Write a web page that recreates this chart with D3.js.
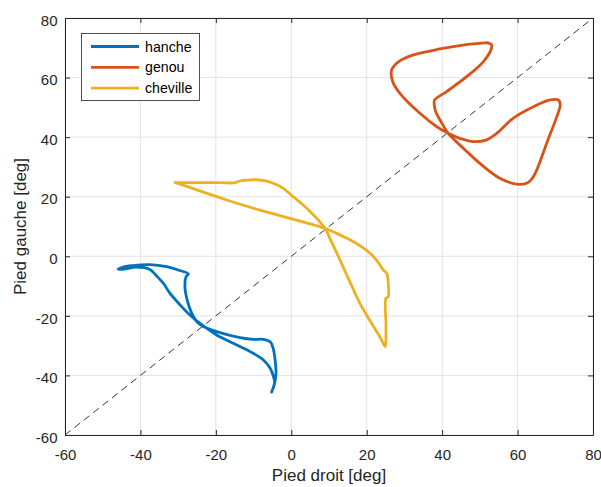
<!DOCTYPE html>
<html>
<head>
<meta charset="utf-8">
<script src="https://cdn.jsdelivr.net/npm/d3@7"></script>
<style>
  html, body { margin: 0; padding: 0; background: #fff; }
  svg { display: block; font-family: "Liberation Sans", Arial, Helvetica, sans-serif; }
</style>
</head>
<body>
<svg id="chart" width="601" height="487"></svg>
<script>
// Joint angle cycles: right foot (x) vs left foot (y), in degrees
const hancheX = [-5.2, -4.5, -4.05, -4.3, -4.8, -5.6, -7.4, -10.1, -13.6, -19.8, -23.3, -25.1, -26.4, -27.6, -28.2, -27.9, -27.3,
                 -30.0, -33.0, -37.5, -41.9, -44.6, -45.9, -44.0, -41.0, -37.5, -35.7, -33.9, -32.2, -29.5, -26.9, -23.3,
                 -19.8, -15.4, -10.9, -7.4, -5.6, -4.6, -4.4];
const hancheY = [-45.6, -43.0, -39.3, -34.8, -30.9, -28.7, -27.9, -27.9, -27.3, -25.3, -23.6, -21.9, -19.1, -14.7, -10.2, -6.8, -5.9,
                 -4.6, -3.5, -2.8, -3.1, -3.6, -4.4, -4.2, -3.6, -4.4, -6.6, -9.1, -12.4, -16.3, -19.7, -23.4,
                 -26.4, -29.2, -32.0, -34.8, -37.6, -40.9, -42.5];

const genouX = [51.8, 53.1, 53.0, 50.9, 46.5, 41.2, 38.0, 37.9, 38.3, 39.6, 41.6, 43.5, 45.6, 50.0, 55.3, 59.8, 62.4, 63.8, 65.1,
                67.7, 70.4, 71.3, 70.8, 68.6, 64.2, 58.8, 54.5, 51.8, 48.3, 44.7, 41.6, 38.6, 34.1, 28.8, 26.9, 26.6, 28.4,
                32.4, 39.4, 45.6, 51.8];
const genouY = [71.7, 71.0, 69.5, 65.3, 60.3, 55.3, 52.5, 51.0, 48.5, 45.4, 41.3, 38.8, 36.3, 31.2, 26.2, 24.2, 24.5, 26.0, 29.0,
                37.9, 46.9, 50.8, 52.5, 52.5, 50.2, 46.3, 41.3, 39.1, 38.5, 39.6, 41.3, 43.5, 48.0, 54.7, 58.6, 62.5, 65.3,
                67.6, 69.6, 70.9, 71.7];

const chevilleX = [-30.8, -27.0, -24.2, -19.0, -14.9, -14.0, -11.5, -9.2, -6.8, -4.8, -2.1, 0.5, 3.0, 5.0, 7.0, 8.9, 10.8, 12.9,
                   15.5, 18.2, 20.0, 21.8, 23.5, 24.9, 25.1, 25.1, 25.1, 25.7, 25.7, 25.3, 24.4, 22.8, 20.9, 18.8, 16.5, 14.2,
                   12.0, 8.9, -8.3, -17.1, -30.8];
const chevilleY = [24.8, 24.7, 24.7, 24.7, 24.7, 25.2, 25.6, 25.7, 25.3, 24.5, 22.8, 20.0, 17.4, 15.0, 12.4, 9.4, 4.5, -1.2,
                   -8.5, -15.8, -19.8, -23.6, -27.0, -30.3, -26.0, -22.5, -14.1, -13.6, -9.1, -5.7, -4.6, -1.6, 1.0, 3.1, 4.9, 6.4,
                   7.7, 9.4, 15.5, 18.9, 24.8];

const seriesNames = ["hanche", "genou", "cheville"];
const seriesColors = ["#0072BD", "#D95319", "#EDB120"];
const tickValues = [-60, -40, -20, 0, 20, 40, 60, 80];
const xTitle = "Pied droit [deg]";
const yTitle = "Pied gauche [deg]";

const series = [
  { name: seriesNames[0], color: seriesColors[0], pts: d3.zip(hancheX, hancheY) },
  { name: seriesNames[1], color: seriesColors[1], pts: d3.zip(genouX, genouY) },
  { name: seriesNames[2], color: seriesColors[2], pts: d3.zip(chevilleX, chevilleY) }
];

const svg = d3.select("#chart");
const L = 65, R = 593, T = 18, B = 435;
const x = d3.scaleLinear().domain([-60, 80]).range([L, R]);
const y = d3.scaleLinear().domain([-60, 80]).range([B, T]);
const axisColor = "#262626";
const tickFmt = d => String(d);   // plain hyphen-minus for negatives

// grid
const grid = svg.append("g");
grid.selectAll(".gx").data(tickValues).join("line")
  .attr("x1", d => x(d)).attr("x2", d => x(d)).attr("y1", T).attr("y2", B)
  .attr("stroke", "#e3e3e3").attr("stroke-width", 1);
grid.selectAll(".gy").data(tickValues).join("line")
  .attr("y1", d => y(d)).attr("y2", d => y(d)).attr("x1", L).attr("x2", R)
  .attr("stroke", "#e3e3e3").attr("stroke-width", 1);

// identity diagonal
svg.append("line")
  .attr("x1", x(-60)).attr("y1", y(-60)).attr("x2", x(80)).attr("y2", y(80))
  .attr("stroke", "#000").attr("stroke-width", 0.8).attr("stroke-dasharray", "7,5");

// curves
const line = d3.line().x(d => x(d[0])).y(d => y(d[1])).curve(d3.curveCatmullRom.alpha(0.5));
svg.append("g").selectAll("path").data(series).join("path")
  .attr("d", d => line(d.pts))
  .attr("fill", "none").attr("stroke", d => d.color)
  .attr("stroke-width", 2.8).attr("stroke-linejoin", "round").attr("stroke-linecap", "round");

// axes (ticks pointing inward on all four sides)
function styleAxis(g) {
  g.select(".domain").attr("stroke", axisColor).attr("stroke-width", 1);
  g.selectAll(".tick line").attr("stroke", axisColor).attr("stroke-width", 1);
  g.selectAll(".tick text").attr("fill", axisColor).attr("font-size", 15)
    .attr("font-family", "Liberation Sans, Arial, sans-serif");
}
svg.append("g").attr("transform", `translate(0,${B})`)
  .call(d3.axisBottom(x).tickValues(tickValues).tickFormat(tickFmt).tickSize(-5).tickSizeOuter(0).tickPadding(14.5))
  .call(styleAxis);
svg.append("g").attr("transform", `translate(${L},0)`)
  .call(d3.axisLeft(y).tickValues(tickValues).tickFormat(tickFmt).tickSize(-5).tickSizeOuter(0).tickPadding(7.5))
  .call(styleAxis)
  .call(g => g.selectAll(".tick text").attr("dy", "0.48em"));
svg.append("g").attr("transform", `translate(0,${T})`)
  .call(d3.axisTop(x).tickValues(tickValues).tickSize(-5).tickSizeOuter(0).tickFormat(""))
  .call(styleAxis);
svg.append("g").attr("transform", `translate(${R},0)`)
  .call(d3.axisRight(y).tickValues(tickValues).tickSize(-5).tickSizeOuter(0).tickFormat(""))
  .call(styleAxis);

// axis titles
svg.append("text").attr("x", (L + R) / 2).attr("y", 481)
  .attr("text-anchor", "middle").attr("font-size", 17).attr("fill", axisColor).text(xTitle);
svg.append("text").attr("transform", `translate(26,${(T + B) / 2}) rotate(-90)`)
  .attr("text-anchor", "middle").attr("font-size", 17).attr("fill", axisColor).text(yTitle);

// legend
const lg = svg.append("g");
lg.append("rect").attr("x", 81.5).attr("y", 33.5).attr("width", 118).attr("height", 67)
  .attr("fill", "#fff").attr("stroke", axisColor).attr("stroke-width", 0.8);
const rows = lg.selectAll(".row").data(series).join("g")
  .attr("transform", (d, i) => `translate(0,${46.5 + i * 20.8})`);
rows.append("line").attr("x1", 91).attr("x2", 139).attr("y1", 0).attr("y2", 0)
  .attr("stroke", d => d.color).attr("stroke-width", 2.8);
rows.append("text").attr("x", 145).attr("y", 5).attr("font-size", 14.2)
  .attr("fill", "#000").text(d => d.name);
</script>
</body>
</html>
